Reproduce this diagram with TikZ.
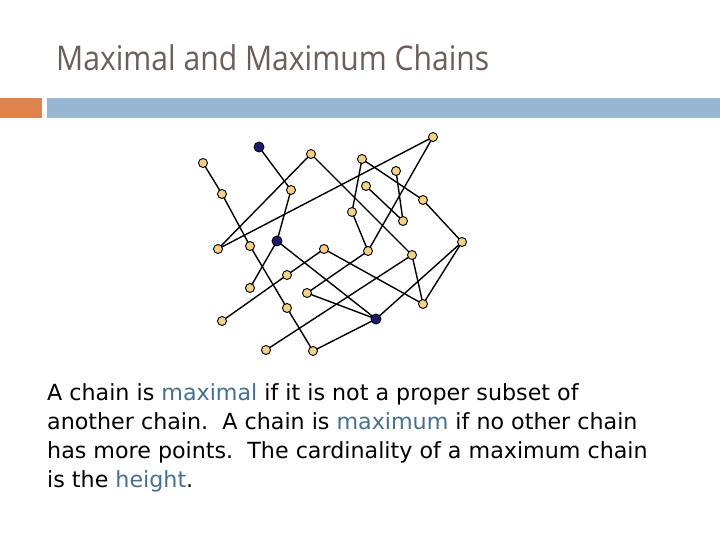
\documentclass[tikz,border=0pt]{standalone}
\usepackage{fontspec}
\usetikzlibrary{backgrounds}
\setmainfont{DejaVu Sans}
\newfontfamily\titlefont{Open Sans}
\definecolor{titlegray}{RGB}{108,94,88}
\definecolor{barorange}{RGB}{222,132,74}
\definecolor{barblue}{RGB}{150,182,210}
\definecolor{ptyellow}{RGB}{243,210,135}
\definecolor{ptnavy}{RGB}{28,28,110}
\definecolor{wordblue}{RGB}{72,112,140}

\begin{document}
\begin{tikzpicture}[x=1pt,y=-1pt,
  pt/.style={circle,draw=black,line width=0.9pt,fill=ptyellow,inner sep=0pt,minimum size=9pt},
  bpt/.style={circle,draw=black,line width=0.9pt,fill=ptnavy,inner sep=0pt,minimum size=10pt},
  edge/.style={line width=1.4pt}]
\useasboundingbox (0,0) rectangle (720,540);

% title and bar
\node[anchor=base west,font=\titlefont\fontsize{34}{40}\selectfont,text=titlegray,inner sep=0pt] (title) at (56,71) {\scalebox{0.885}[1]{Maximal and Maximum Chains}};
\fill[barorange] (0,98) rectangle (42,118);
\fill[barblue] (47,98) rectangle (720,118);

% points
\node[bpt] (a) at (259,147) {};
\node[pt] (b) at (203,163) {};
\node[pt] (c) at (311,154) {};
\node[pt] (d) at (362,159) {};
\node[pt] (e) at (433,137) {};
\node[pt] (f) at (222,194) {};
\node[pt] (g) at (291,190) {};
\node[pt] (h) at (396,171) {};
\node[pt] (i) at (366,186) {};
\node[pt] (j) at (423,200) {};
\node[pt] (k) at (352,212) {};
\node[pt] (l) at (403,221) {};
\node[pt] (m) at (218,249) {};
\node[pt] (n) at (250,246) {};
\node[bpt] (o) at (277,241) {};
\node[pt] (p) at (324,249) {};
\node[pt] (q) at (368,251) {};
\node[pt] (r) at (412,255) {};
\node[pt] (s) at (462,242) {};
\node[pt] (t) at (287,275) {};
\node[pt] (u) at (250,288) {};
\node[pt] (v) at (307,293) {};
\node[pt] (w) at (287,308) {};
\node[pt] (x) at (423,304) {};
\node[bpt] (y) at (376,319) {};
\node[pt] (z) at (222,321) {};
\node[pt] (aa) at (266,350) {};
\node[pt] (bb) at (313,351) {};

% cover relations
\begin{scope}[on background layer]
\foreach \u/\v in {b/f,a/g,c/m,m/e,c/r,g/o,f/n,n/w,w/bb,o/u,o/y,p/t,t/z,p/x,d/k,k/q,d/j,j/s,h/l,i/l,e/q,q/v,v/y,s/x,s/y,r/x,aa/r,bb/y}
  \draw[edge] (\u.center) -- (\v.center);
\end{scope}

% text
\node[anchor=north west,align=left,inner sep=0pt,font=\fontsize{22.2}{29}\selectfont] (body) at (47,383)
  {A chain is \textcolor{wordblue}{maximal} if it is not a proper subset of\\
   another chain.\ \ A chain is \textcolor{wordblue}{maximum} if no other chain\\
   has more points.\ \ The cardinality of a maximum chain\\
   is the \textcolor{wordblue}{height}.};
\end{tikzpicture}
\end{document}
